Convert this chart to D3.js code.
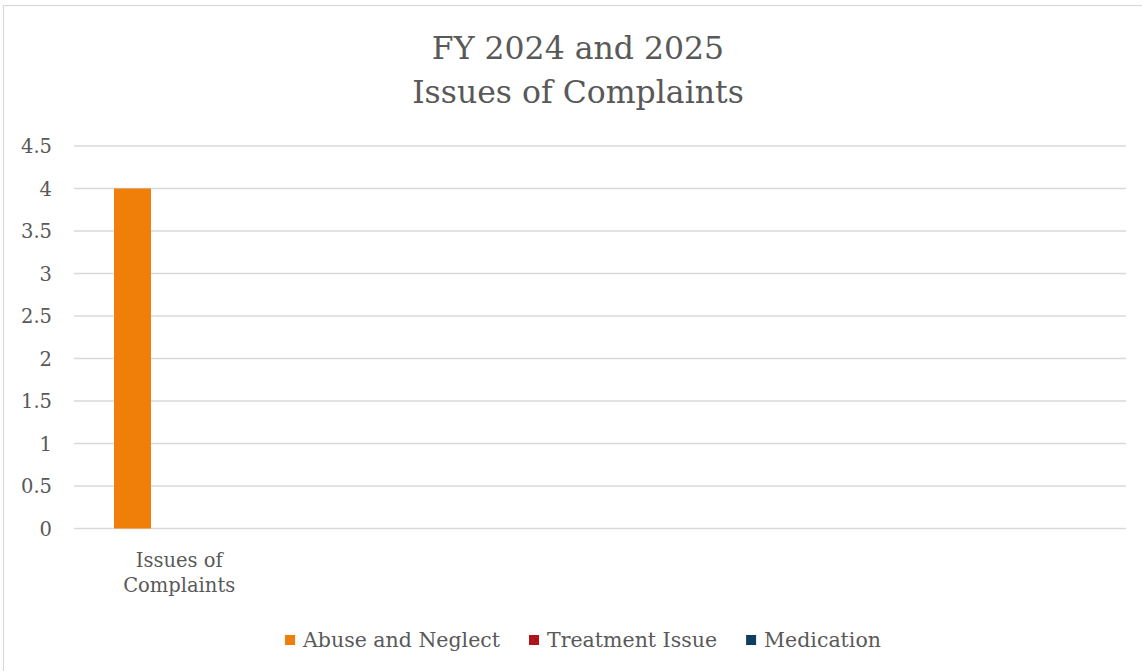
<!DOCTYPE html>
<html>
<head>
<meta charset="utf-8">
<script src="https://cdn.jsdelivr.net/npm/d3@7"></script>
<style>
  html, body { margin: 0; padding: 0; background: #fff; }
  svg { display: block; }
  text { font-family: "DejaVu Serif", "Liberation Serif", serif; fill: #595959; }
</style>
</head>
<body>
<svg id="chart" width="1142" height="671"></svg>
<script>
// ---- data ----
const titleLines = ["FY 2024 and 2025", "Issues of Complaints"];
const categories = ["Issues of Complaints"];
const seriesNames = ["Abuse and Neglect", "Treatment Issue", "Medication"];
const seriesColors = ["#F07F09", "#B0131A", "#0E3F60"];
const abuseValues = [4];
const treatmentValues = [0];
const medicationValues = [0];
const seriesValues = [abuseValues, treatmentValues, medicationValues];
const yTicks = [0, 0.5, 1, 1.5, 2, 2.5, 3, 3.5, 4, 4.5];

// ---- layout ----
const W = 1142, H = 671;
const plot = { left: 74, right: 1126, top: 146, bottom: 528.5 };
const svg = d3.select("#chart");

// chart border
svg.append("rect")
  .attr("x", 3.5).attr("y", 5.5)
  .attr("width", 1150).attr("height", 680)
  .attr("fill", "#fff").attr("stroke", "#d9d9d9").attr("stroke-width", 1.2);

// title
const title = svg.append("text").attr("text-anchor", "middle").style("font-size", "31.5px");
titleLines.forEach((t, i) => {
  title.append("tspan").attr("x", 578).attr("y", 59 + i * 44).text(t);
});

// scales
const y = d3.scaleLinear().domain([0, 4.5]).range([plot.bottom, plot.top]);
const catWidth = (plot.right - plot.left) / 5;
const x0 = d3.scaleBand().domain(categories).range([plot.left, plot.left + catWidth * categories.length]).padding(0);
const x1 = d3.scaleBand().domain(seriesNames).range([40, 40 + 37 * seriesNames.length]).padding(0);

// gridlines
svg.append("g").selectAll("line").data(yTicks).join("line")
  .attr("x1", plot.left).attr("x2", plot.right)
  .attr("y1", d => y(d)).attr("y2", d => y(d))
  .attr("stroke", "#d9d9d9").attr("stroke-width", 1.3);

// y axis labels
const yAxis = d3.axisLeft(y).tickValues(yTicks).tickSize(0).tickPadding(0).tickFormat(d3.format("~g"));
const gy = svg.append("g").attr("transform", "translate(52,0)").call(yAxis);
gy.select(".domain").remove();
gy.selectAll("text").style("font-family", '"DejaVu Serif", serif').style("font-size", "19.5px").attr("fill", "#595959").attr("dy", "0.35em");

// bars
const groups = svg.append("g").selectAll("g").data(categories).join("g")
  .attr("transform", c => `translate(${x0(c)},0)`);
groups.selectAll("rect")
  .data((c, ci) => seriesNames.map((s, si) => ({ s, v: seriesValues[si][ci], color: seriesColors[si] })))
  .join("rect")
  .attr("x", d => x1(d.s))
  .attr("width", x1.bandwidth())
  .attr("y", d => y(d.v))
  .attr("height", d => y(0) - y(d.v))
  .attr("fill", d => d.color);

// category labels (wrapped)
categories.forEach(c => {
  const words = c.split(" ");
  const lines = [words.slice(0, 2).join(" "), words.slice(2).join(" ")];
  const t = svg.append("text").attr("text-anchor", "middle").style("font-size", "19.5px");
  lines.forEach((l, i) => {
    t.append("tspan").attr("x", x0(c) + x0.bandwidth() / 2).attr("y", 567 + i * 25).text(l);
  });
});

// legend
const legend = svg.append("g");
const items = legend.selectAll("g").data(seriesNames).join("g");
items.append("rect").attr("width", 10).attr("height", 10).attr("y", -12)
  .attr("fill", (d, i) => seriesColors[i]);
items.append("text").attr("x", 18).attr("y", 0).style("font-size", "20.5px").text(d => d);
let xpos = 0;
const gap = 29;
items.each(function () {
  const g = d3.select(this);
  const w = 18 + g.select("text").node().getComputedTextLength();
  g.attr("transform", `translate(${xpos},0)`);
  xpos += w + gap;
});
const totalW = xpos - gap;
legend.attr("transform", `translate(${583 - totalW / 2},647)`);
</script>
</body>
</html>
